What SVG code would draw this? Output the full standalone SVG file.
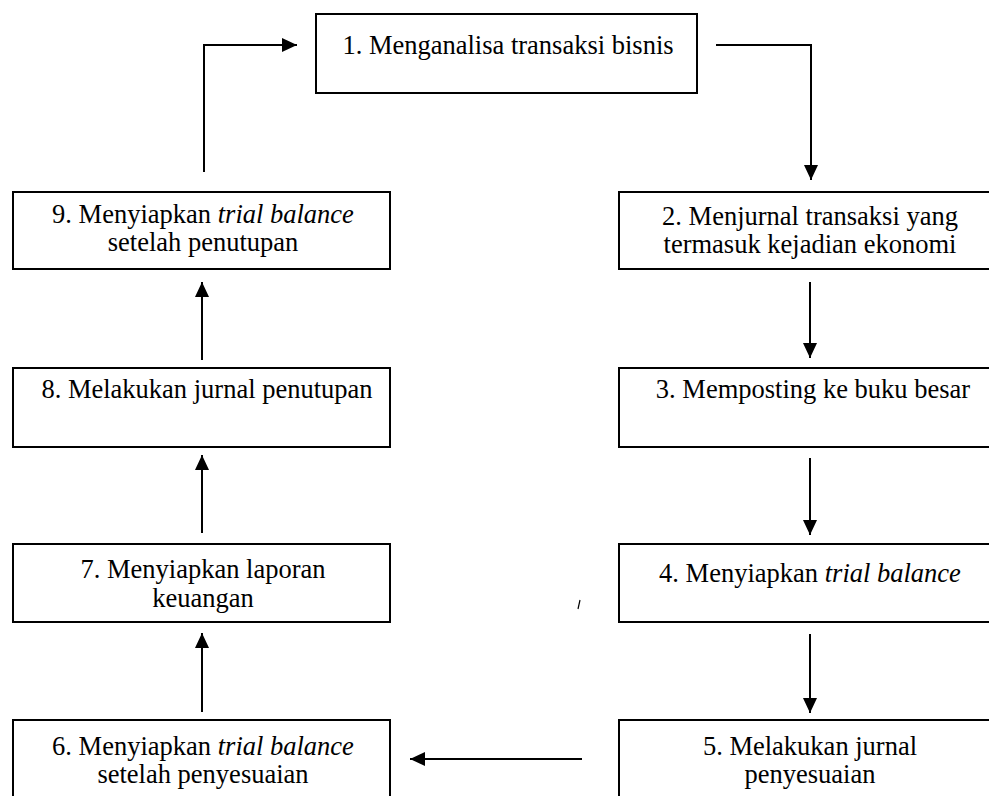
<svg xmlns="http://www.w3.org/2000/svg" width="989" height="796" viewBox="0 0 989 796">
<style>
.box{fill:#fff;stroke:#000;stroke-width:2}
.t{font-family:"Liberation Serif","Times New Roman",serif;font-size:26.5px;fill:#000;text-anchor:middle}
.i{font-style:italic}
.c{fill:none;stroke:#000;stroke-width:2}
</style>
<defs>
<marker id="ah" markerWidth="15" markerHeight="14" refX="15" refY="7" orient="auto" markerUnits="userSpaceOnUse">
<path d="M0,0 L15,7 L0,14 Z" fill="#000"/>
</marker>
</defs>
<rect width="989" height="796" fill="#fff"/>
<g id="connectors">
<path class="c" d="M204,172 V45 H297" marker-end="url(#ah)"/>
<path class="c" d="M716,45 H811 V180" marker-end="url(#ah)"/>
<path class="c" d="M810,282 V358" marker-end="url(#ah)"/>
<path class="c" d="M810,458 V535" marker-end="url(#ah)"/>
<path class="c" d="M810,634 V713" marker-end="url(#ah)"/>
<path class="c" d="M582,759 H410" marker-end="url(#ah)"/>
<path class="c" d="M202,712 V633" marker-end="url(#ah)"/>
<path class="c" d="M202,533 V455" marker-end="url(#ah)"/>
<path class="c" d="M202,360 V282" marker-end="url(#ah)"/>
</g>
<g id="node1">
<rect class="box" x="316" y="14" width="381" height="79"/>
<text class="t" x="508" y="54">1. Menganalisa transaksi bisnis</text>
</g>
<g id="node2">
<rect class="box" x="619" y="192" width="381" height="77"/>
<text class="t" x="810" y="225">2. Menjurnal transaksi yang</text>
<text class="t" x="810" y="253">termasuk kejadian ekonomi</text>
</g>
<g id="node3">
<rect class="box" x="619" y="368" width="381" height="79"/>
<text class="t" x="813" y="398">3. Memposting ke buku besar</text>
</g>
<g id="node4">
<rect class="box" x="619" y="544" width="381" height="78"/>
<text class="t" x="810" y="582">4. Menyiapkan <tspan class="i">trial balance</tspan></text>
</g>
<g id="node5">
<rect class="box" x="619" y="720" width="381" height="90"/>
<text class="t" x="810" y="755">5. Melakukan jurnal</text>
<text class="t" x="810" y="783">penyesuaian</text>
</g>
<g id="node6">
<rect class="box" x="13" y="720" width="377" height="90"/>
<text class="t" x="203" y="755">6. Menyiapkan <tspan class="i">trial balance</tspan></text>
<text class="t" x="203" y="783">setelah penyesuaian</text>
</g>
<g id="node7">
<rect class="box" x="13" y="544" width="377" height="78"/>
<text class="t" x="203" y="578">7. Menyiapkan laporan</text>
<text class="t" x="203" y="607">keuangan</text>
</g>
<g id="node8">
<rect class="box" x="13" y="368" width="377" height="79"/>
<text class="t" x="207" y="398">8. Melakukan jurnal penutupan</text>
</g>
<g id="node9">
<rect class="box" x="13" y="192" width="377" height="77"/>
<text class="t" x="203" y="223">9. Menyiapkan <tspan class="i">trial balance</tspan></text>
<text class="t" x="203" y="251">setelah penutupan</text>
</g>
<path d="M578,609 L580,600" stroke="#000" stroke-width="1.2" fill="none"/>
</svg>
